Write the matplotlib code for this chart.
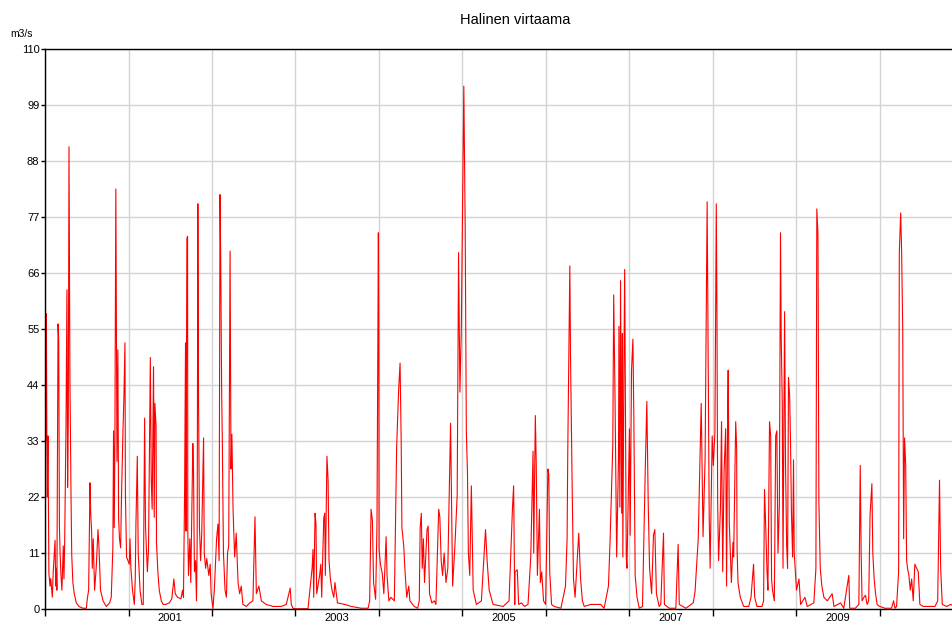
import pandas as pd
import matplotlib
matplotlib.use("Agg")
import matplotlib.pyplot as plt
import matplotlib.dates as mdates

# virtaama (m3/s), luettu kuvasta: päivä vuoden alusta + arvo
d2000 = [0, 2, 4, 6, 8, 10, 13, 17, 22, 25, 32, 36, 44, 47, 50, 52, 57, 60, 63, 66, 70, 74, 80, 83,
         86, 92, 96, 99, 102, 105, 109, 114, 117, 122, 128, 137, 149, 166, 181, 185, 191, 197, 200,
         204, 207, 211, 217, 224, 232, 236, 243, 254, 268, 283, 290, 297, 300, 303, 306, 310, 315,
         319, 322, 326, 331, 335, 341, 345, 350, 352, 357, 363]
q2000 = [11, 45, 33, 58, 35, 22, 34, 7, 4.5, 6, 2.3, 7.3, 13.5, 4.5, 8, 3.7, 56, 53, 16.7, 11, 6.6,
         3.7, 12.4, 5.9, 12.7, 36.5, 62.7, 23.9, 37.5, 90.8, 45.8, 21.7, 10.6, 5.2, 3, 1.2, 0.5,
         0.15, 0.15, 2, 3.7, 24.8, 18.8, 15.3, 8, 13.8, 3.7, 8, 15.6, 12.4, 3.7, 1.6, 0.5, 1.2, 2.3,
         12, 35, 16, 34, 82.5, 29, 50.9, 18, 13.8, 12, 22.4, 34.7, 41, 52.3, 22.4, 10.2, 9.5]

d2001 = [3, 6, 10, 17, 25, 29, 32, 38, 42, 50, 58, 64, 70, 74, 82, 87, 95, 99, 103, 109, 112, 115,
         120, 122, 128, 134, 143, 151, 163, 178, 189, 198, 204, 214, 229, 236, 240, 245, 249, 251,
         255, 258, 259, 262, 268, 272, 281, 284, 288, 293, 297, 300, 303, 306, 310, 315, 320, 328,
         331, 337, 342, 351, 357, 361]
q2001 = [8.8, 13.8, 8, 3.7, 0.9, 5.9, 16.7, 30, 11, 3.7, 0.9, 0.9, 37.5, 16, 7.3, 11.7, 49.4, 25.3,
         19.6, 47.6, 18, 40.4, 36, 13, 7.3, 3.7, 1.6, 0.9, 0.9, 1.2, 2, 5.9, 3, 2.3, 2, 3.7, 2.3,
         23.2, 52.3, 15.3, 72.8, 73.2, 15.3, 6.6, 13.8, 5.2, 32.5, 27.1, 7.3, 9.5, 1.6, 13.8, 79.6,
         40.8, 16, 9.5, 14.9, 33.6, 11, 8, 9.9, 6.6, 8.8, 3]

d2002 = [4, 10, 16, 20, 26, 31, 35, 38, 42, 45, 50, 57, 63, 68, 73, 79, 83, 87, 92, 99, 106, 109,
         114, 121, 128, 135, 150, 165, 179, 188, 194, 205, 216, 237, 267, 303, 325, 342, 347, 354]
q2002 = [0.1, 3.7, 9.5, 13.8, 16.7, 9.5, 81.4, 68.5, 43.3, 33.2, 11, 3.7, 2.3, 11, 12.4, 70.3, 27.5,
         34.3, 19.6, 10.2, 14.9, 11, 5.2, 3, 4.5, 0.9, 0.5, 1.2, 1.6, 18.1, 3, 4.5, 1.6, 0.9, 0.5,
         0.5, 0.9, 4.1, 0.9, 0.15]

d2003 = [0, 26, 55, 73, 77, 80, 86, 90, 93, 106, 111, 115, 124, 128, 131, 138, 143, 147, 153, 160,
         168, 173, 184, 216, 245, 288, 318, 325, 331, 337, 342, 351, 357, 363]
q2003 = [0.05, 0.05, 0.05, 8, 11.7, 2.3, 18.8, 16.7, 3, 6.6, 8.8, 2.3, 17.8, 18.8, 6.6, 30, 25.3,
         9.5, 5.9, 3.7, 2.3, 5.2, 1.2, 0.9, 0.5, 0.15, 0.15, 1.6, 19.6, 17.4, 5.2, 1.9, 16.7, 73.9]

d2004 = [0, 1, 7, 15, 22, 32, 36, 44, 53, 68, 78, 87, 93, 98, 101, 109, 114, 122, 131, 136, 155,
         170, 177, 181, 186, 190, 195, 200, 211, 216, 222, 232, 243, 250, 262, 267, 273, 279, 286,
         294, 302, 314, 318, 323, 333, 343, 349, 355, 361]
q2004 = [54.8, 11.7, 8.8, 7, 3, 14.2, 6.6, 1.6, 2.3, 1.6, 31.8, 43.3, 48.3, 32.5, 16, 12.4, 8, 2.3,
         4.5, 1.6, 0.5, 0.15, 1.6, 16, 18.8, 8, 13.8, 5.2, 15.6, 16.3, 3, 1.2, 1.6, 0.9, 19.6, 18.1,
         9.5, 6.6, 11, 5.2, 8, 36.5, 21.7, 4.5, 12.4, 22.4, 70, 42.6, 54.8]

d2005 = [6, 12, 17, 22, 26, 32, 39, 47, 61, 83, 96, 101, 108, 117, 134, 178, 204, 219, 224, 229,
         230, 240, 246, 258, 272, 287, 299, 309, 312, 319, 323, 328, 337, 341, 347, 355, 364]
q2005 = [102.7, 75.3, 35, 26.8, 11, 6.6, 24.2, 3.7, 0.9, 1.6, 11.7, 15.6, 9.5, 3.7, 0.9, 0.5, 1.6,
         19.9, 24.2, 0.9, 7.3, 7.7, 0.9, 1.2, 0.5, 0.9, 10.2, 31, 11, 38, 28.6, 6.6, 19.6, 5.2, 7.3,
         1.6, 0.9]

d2006 = [9, 13, 17, 25, 36, 66, 86, 93, 96, 105, 108, 115, 121, 128, 144, 152, 160, 168, 197, 240,
         255, 274, 281, 293, 297, 302, 310, 318, 320, 324, 327, 332, 335, 337, 342, 345, 349, 352,
         355, 361]
q2006 = [27.5, 26.4, 7.3, 0.9, 0.5, 0.15, 4.5, 13.8, 31, 67.4, 49.8, 24.6, 5.9, 2.3, 14.9, 5.9, 1.6,
         0.5, 0.9, 0.9, 0.15, 4.5, 13.1, 32.2, 61.7, 44.7, 10.2, 29.6, 55.5, 20, 64.5, 18.8, 54.1,
         10.2, 49, 66.7, 32.5, 10.2, 8, 23.2]

d2007 = [1, 4, 10, 16, 20, 26, 34, 44, 58, 70, 77, 83, 89, 98, 106, 112, 119, 131, 138, 150, 154,
         175, 204, 214, 219, 248, 280, 288, 302, 315, 318, 323, 332, 341, 344, 350, 354, 363]
q2007 = [35.4, 14.5, 46.9, 53, 38.3, 6.6, 2.3, 0.15, 0.5, 27.1, 40.8, 21, 8, 3, 14.5, 15.6, 3, 0.5,
         0.9, 14.9, 0.9, 0.15, 0.15, 12.7, 0.9, 0.15, 1.2, 3.4, 13.8, 40.4, 30.4, 14.2, 29.6, 80,
         59.9, 18.1, 8, 34]

d2008 = [3, 10, 16, 19, 22, 26, 34, 39, 44, 50, 57, 61, 66, 68, 73, 82, 89, 92, 101, 105, 107, 111,
         121, 136, 158, 168, 179, 184, 194, 216, 223, 227, 232, 238, 242, 249, 254, 258, 262, 270,
         276, 281, 286, 292, 297, 300, 305, 308, 315, 319, 324, 328, 332, 337, 341, 345, 350, 354,
         357, 363]
q2008 = [28.2, 34.7, 79.6, 57, 21, 9.5, 19.6, 36.8, 7.3, 26.8, 35.4, 4.5, 40.4, 46.9, 16.7, 5.2,
         13.1, 10.2, 36.8, 31.8, 11.7, 5.2, 2.3, 0.5, 0.5, 2.3, 8.8, 2.3, 0.5, 0.5, 1.6, 23.5, 16.7,
         7.3, 3.7, 36.8, 34, 5.9, 3.7, 1.6, 34, 35, 11, 20.3, 73.9, 53.7, 39.7, 8, 58.4, 28.6, 12.4,
         8, 45.5, 41.9, 32.5, 18.8, 10.2, 29.3, 11, 6.6]

d2009 = [1, 12, 19, 38, 48, 77, 86, 90, 95, 99, 105, 112, 121, 136, 157, 165, 194, 208, 230, 234,
         259, 274, 280, 284, 288, 296, 303, 310, 317, 323, 328, 331, 335, 341, 347, 354, 364]
q2009 = [3.7, 5.9, 0.9, 2.3, 0.5, 1.2, 8, 78.6, 73.5, 21, 8, 4.5, 2.3, 1.6, 3, 0.5, 1.2, 0.15, 6.6,
         0.15, 0.15, 0.9, 28.2, 11, 1.6, 2.3, 2.7, 0.9, 1.6, 18.5, 22.4, 24.6, 11, 5.9, 3, 0.9, 0.5]

d2010 = [1, 23, 52, 61, 67, 74, 83, 86, 92, 96, 101, 105, 109, 114, 118, 122, 128, 134, 140, 147,
         154, 169, 176, 191, 242, 254, 262, 267, 274, 293, 311, 326]
q2010 = [0.5, 0.15, 0.15, 1.6, 0.15, 0.5, 7.3, 70, 77.8, 70.6, 54.8, 13.8, 33.6, 28.2, 9.5, 8, 6.6,
         3.7, 5.9, 1.6, 8.8, 7.3, 0.9, 0.5, 0.5, 1.6, 25.3, 8, 0.9, 0.5, 0.9, 0.5]

years = [2000, 2001, 2002, 2003, 2004, 2005, 2006, 2007, 2008, 2009, 2010]
day_lists = [d2000, d2001, d2002, d2003, d2004, d2005, d2006, d2007, d2008, d2009, d2010]
flow_lists = [q2000, q2001, q2002, q2003, q2004, q2005, q2006, q2007, q2008, q2009, q2010]

# vain parittomat vuodet saavat nimen akselille
label_years = [2001, 2003, 2005, 2007, 2009]

dates = []
flow = []
for yr, d, q in zip(years, day_lists, flow_lists):
    dates.extend(pd.Timestamp(f"{yr}-01-01") + pd.to_timedelta(d, unit="D"))
    flow.extend(q)

plt.rcParams['font.family'] = ['Liberation Sans', 'DejaVu Sans']

W, H = 953, 625
fig = plt.figure(figsize=(W / 100, H / 100), dpi=100)
ax = fig.add_axes([45 / W, 16 / H, 1 - 45 / W, 560 / H])

ax.plot(dates, flow, color='red', linewidth=0.8)

ax.set_xlim(pd.Timestamp("2000-01-01"), pd.Timestamp("2010-11-18"))
ax.set_ylim(0, 110)
ax.set_yticks(range(0, 111, 11))

ax.xaxis.set_major_locator(mdates.YearLocator())
ax.xaxis.set_major_formatter(plt.NullFormatter())
mid = [pd.Timestamp(f"{y}-07-02") for y in label_years]
ax.set_xticks(mid, [str(y) for y in label_years], minor=True)
ax.tick_params(axis='x', which='major', length=5, width=1, color='black')
ax.tick_params(axis='x', which='minor', length=0, labelsize=8, pad=3)
ax.tick_params(axis='y', length=3, width=1, labelsize=8, pad=1)

ax.grid(True, which='major', color='#d3d3d3', linewidth=1)
ax.set_axisbelow(True)
for s in ['top', 'left', 'bottom']:
    ax.spines[s].set_color('black')
    ax.spines[s].set_linewidth(1)
ax.spines['right'].set_visible(False)

fig.text(515 / W, 1 - 20 / H, "Halinen virtaama", ha='center', va='center', fontsize=10.5)
fig.text(10 / W, 1 - 34 / H, "m3/s", ha='left', va='center', fontsize=7.5)

fig.savefig("out.png", dpi=100)
